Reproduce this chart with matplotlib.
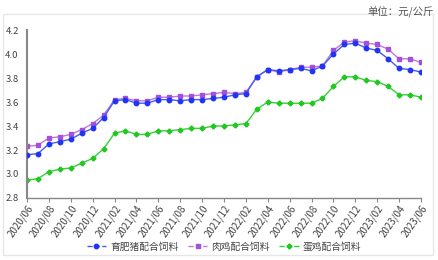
import matplotlib.pyplot as plt
from matplotlib.patches import Rectangle

plt.rcParams['font.family'] = ['Noto Sans CJK SC', 'DejaVu Sans']

# months 2020/06 .. 2023/06
months = ['%d/%02d' % (2020 + (5 + i) // 12, (5 + i) % 12 + 1) for i in range(37)]

pig = [3.16, 3.17, 3.25, 3.27, 3.29, 3.34, 3.38, 3.47, 3.61, 3.62, 3.59, 3.59,
       3.62, 3.62, 3.61, 3.62, 3.62, 3.63, 3.64, 3.66, 3.67, 3.81, 3.87, 3.86,
       3.87, 3.88, 3.86, 3.90, 4.00, 4.08, 4.09, 4.05, 4.03, 3.96, 3.88, 3.87, 3.85]
broiler = [3.23, 3.24, 3.30, 3.31, 3.33, 3.37, 3.42, 3.49, 3.62, 3.63, 3.61, 3.61,
           3.64, 3.64, 3.65, 3.65, 3.66, 3.67, 3.68, 3.67, 3.68, 3.81, 3.87, 3.85,
           3.87, 3.89, 3.89, 3.90, 4.03, 4.10, 4.11, 4.09, 4.08, 4.04, 3.96, 3.96, 3.93]
layer = [2.95, 2.96, 3.02, 3.04, 3.05, 3.09, 3.13, 3.21, 3.34, 3.36, 3.33, 3.33,
         3.36, 3.36, 3.37, 3.38, 3.38, 3.40, 3.40, 3.41, 3.42, 3.54, 3.60, 3.59,
         3.59, 3.59, 3.59, 3.63, 3.73, 3.81, 3.81, 3.78, 3.77, 3.73, 3.66, 3.66, 3.64]

labels = ['育肥猪配合饲料', '肉鸡配合饲料', '蛋鸡配合饲料']

x = list(range(len(months)))

fig = plt.figure(figsize=(4.38, 2.60), dpi=100)
# light frame around the chart
fig.patches.append(Rectangle((0.007, 0.02), 0.982, 0.925, transform=fig.transFigure,
                             fill=False, edgecolor='#e6e6e6', linewidth=1.0))
ax = fig.add_axes([0.0616, 0.2385, 0.8995, 0.646])

ax.plot(x, pig, color='#4a5cf0', marker='o', markersize=3.2, markerfacecolor='#1f35f5',
        markeredgecolor='#1f35f5', linewidth=1.0, label=labels[0], zorder=3)
ax.plot(x, broiler, color='#b87ae0', marker='s', markersize=3.0, markerfacecolor='#a64fd8',
        markeredgecolor='#a64fd8', linewidth=1.0, label=labels[1], zorder=2)
ax.plot(x, layer, color='#35d035', marker='P', markersize=3.2, markerfacecolor='#22c822',
        markeredgecolor='#22c822', linewidth=1.0, label=labels[2], zorder=2)

ax.set_xlim(0, len(months) - 1)
ax.set_ylim(2.8, 4.2)
ax.set_yticks([2.8, 3.0, 3.2, 3.4, 3.6, 3.8, 4.0, 4.2])
ax.set_yticklabels(['%.1f' % v for v in [2.8, 3.0, 3.2, 3.4, 3.6, 3.8, 4.0, 4.2]],
                   fontsize=6.8, color='#444444')
ax.set_xticks(x[::2])
ax.set_xticklabels(months[::2], rotation=55, ha='right', rotation_mode='anchor',
                   fontsize=7, color='#444444')

for s in ['top', 'right']:
    ax.spines[s].set_visible(False)
ax.spines['left'].set_color('#888888')
ax.spines['left'].set_linewidth(1.5)
ax.spines['bottom'].set_color('#888888')
ax.spines['bottom'].set_linewidth(1.0)
ax.tick_params(axis='y', length=0, pad=6)
ax.tick_params(axis='x', length=3, color='#888888', pad=1)

leg = ax.legend(loc='center', bbox_to_anchor=(0.5, -0.29), ncol=3, frameon=False,
                fontsize=7, handlelength=2.0, columnspacing=1.0, handletextpad=0.4,
                borderpad=0)
for line in leg.get_lines():
    line.set_linestyle('--')
for t in leg.get_texts():
    t.set_color('#444444')

fig.text(0.99, 0.975, '单位：元/公斤', ha='right', va='top', fontsize=7.5, color='#555555')

fig.savefig('out.png', dpi=100)
